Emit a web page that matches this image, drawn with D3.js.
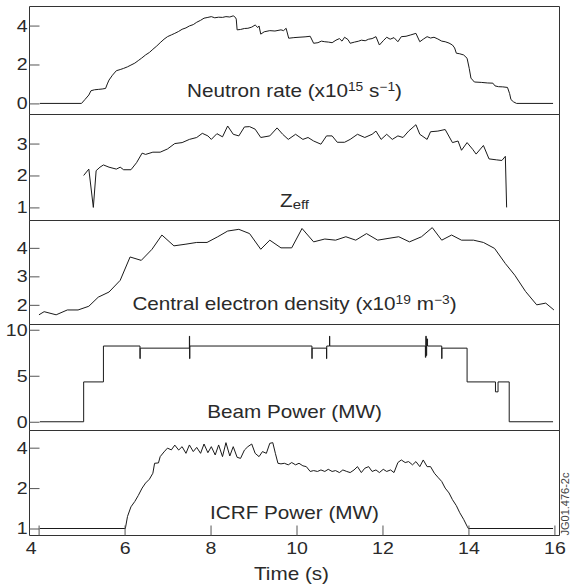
<!DOCTYPE html>
<html>
<head>
<meta charset="utf-8">
<script src="https://cdn.jsdelivr.net/npm/d3@7"></script>
<style>
    body {
        margin: 0;
        background: #fff;
    }

    svg {
        font-family: "Liberation Sans", Arial, Helvetica, sans-serif;
    }

    .frame {
        fill: none;
        stroke: #333;
        stroke-width: 1px;
        vector-effect: non-scaling-stroke;
    }

    .trace {
        fill: none;
        stroke: #1a1a1a;
        stroke-width: 1px;
        stroke-linejoin: round;
        vector-effect: non-scaling-stroke;
    }

    .axis path {
        display: none;
    }

    .axis line {
        stroke: #555;
        vector-effect: non-scaling-stroke;
    }

    .axis text {
        font-size: 17px;
        fill: #2a2a2a;
    }

    .label {
        font-size: 18px;
        fill: #2a2a2a;
        text-anchor: middle;
    }
</style>
</head>
<body>
<svg width="572" height="588"></svg>
<script>
    // time traces, [t (s), value]
    var neutron = [
        [4.03, 0], [5.00, 0], [5.08, 0.2], [5.17, 0.43], [5.22, 0.65], [5.30, 0.7], [5.39, 0.72], [5.48, 0.74],
        [5.56, 0.77], [5.60, 1.0], [5.64, 1.2], [5.72, 1.45], [5.81, 1.68], [5.90, 1.74], [5.98, 1.8], [6.07, 1.88],
        [6.15, 1.97], [6.24, 2.07], [6.32, 2.2], [6.40, 2.33], [6.49, 2.49], [6.58, 2.62], [6.66, 2.78], [6.75, 2.95],
        [6.83, 3.12], [6.92, 3.3], [7.0, 3.43], [7.09, 3.52], [7.17, 3.6], [7.26, 3.7], [7.34, 3.81], [7.43, 3.88],
        [7.51, 3.98], [7.60, 4.05], [7.68, 4.17], [7.77, 4.27], [7.85, 4.38], [7.94, 4.42], [8.02, 4.46], [8.10, 4.40],
        [8.19, 4.43], [8.28, 4.42], [8.36, 4.46], [8.45, 4.44], [8.53, 4.5], [8.58, 4.42], [8.60, 4.33], [8.62, 3.78],
        [8.70, 3.80], [8.79, 3.85], [8.87, 3.86], [8.96, 3.92], [9.04, 4.03], [9.10, 3.90], [9.13, 3.98], [9.17, 3.56],
        [9.25, 3.68], [9.38, 3.74], [9.50, 3.72], [9.64, 3.78], [9.70, 3.74], [9.76, 3.86], [9.82, 3.35], [9.94, 3.38],
        [10.06, 3.4], [10.2, 3.42], [10.32, 3.45], [10.40, 3.09], [10.5, 3.12], [10.58, 3.2], [10.66, 3.17], [10.75, 3.15],
        [10.83, 3.12], [10.92, 3.25], [11.0, 3.33], [11.06, 3.2], [11.12, 3.4], [11.20, 3.28], [11.25, 3.09], [11.35, 3.15],
        [11.45, 3.2], [11.51, 3.25], [11.6, 3.22], [11.68, 3.3], [11.76, 3.33], [11.85, 3.43], [11.93, 3.0], [12.02, 3.22],
        [12.10, 3.4], [12.18, 3.3], [12.27, 3.38], [12.36, 3.17], [12.44, 3.43], [12.55, 3.45], [12.66, 3.52], [12.78, 3.6],
        [12.87, 3.17], [12.95, 3.3], [13.04, 3.43], [13.12, 3.36], [13.2, 3.4], [13.29, 3.31], [13.38, 3.2], [13.46, 3.17],
        [13.55, 3.1], [13.63, 3.0], [13.68, 2.85], [13.72, 2.58], [13.80, 2.55], [13.89, 2.49], [13.97, 2.32], [14.02, 1.8],
        [14.06, 1.3], [14.14, 1.1], [14.3, 1.08], [14.45, 1.05], [14.57, 1.04], [14.62, 0.9], [14.7, 0.86], [14.8, 0.85],
        [14.91, 0.82], [14.96, 0.5], [14.99, 0.2], [15.05, 0.08], [15.12, 0], [15.97, 0]
    ];

    var zeff = [
        [5.05, 2.0], [5.17, 2.2], [5.275, 1.0], [5.34, 2.15], [5.43, 2.26], [5.51, 2.33], [5.64, 2.26], [5.81, 2.2],
        [5.90, 2.26], [5.98, 2.18], [6.15, 2.18], [6.28, 2.4], [6.41, 2.7], [6.49, 2.66], [6.66, 2.73], [6.83, 2.73],
        [7.0, 2.83], [7.17, 3.0], [7.34, 3.03], [7.51, 3.13], [7.68, 3.19], [7.81, 3.32], [7.94, 3.24], [8.02, 3.13],
        [8.15, 3.31], [8.28, 3.21], [8.40, 3.55], [8.53, 3.29], [8.66, 3.24], [8.79, 3.52], [8.91, 3.53], [9.04, 3.45],
        [9.17, 3.19], [9.38, 3.24], [9.55, 3.49], [9.68, 3.29], [9.81, 3.13], [9.98, 3.29], [10.15, 3.13], [10.27, 3.19],
        [10.40, 3.08], [10.57, 2.98], [10.70, 3.24], [10.83, 3.24], [10.95, 3.04], [11.12, 3.04], [11.25, 3.13], [11.42, 3.29],
        [11.59, 3.19], [11.76, 3.29], [11.85, 3.39], [11.97, 3.13], [12.10, 3.29], [12.23, 3.13], [12.36, 3.24], [12.48, 3.19],
        [12.61, 3.39], [12.78, 3.59], [12.87, 3.29], [13.04, 3.13], [13.12, 3.37], [13.29, 3.39], [13.46, 3.44], [13.63, 3.03],
        [13.76, 3.08], [13.84, 2.79], [13.97, 3.03], [14.10, 2.82], [14.18, 2.67], [14.35, 2.94], [14.48, 2.52], [14.65, 2.49],
        [14.78, 2.47], [14.86, 2.6], [14.89, 1.0]
    ];

    var density = [
        [4.01, 1.65], [4.13, 1.76], [4.41, 1.65], [4.67, 1.82], [4.92, 1.82], [5.17, 1.95], [5.39, 2.27], [5.64, 2.45],
        [5.90, 2.86], [6.13, 3.68], [6.39, 3.56], [6.64, 3.95], [6.87, 4.45], [7.15, 4.07], [7.43, 4.13], [7.68, 4.19],
        [7.92, 4.19], [8.17, 4.39], [8.40, 4.59], [8.66, 4.65], [8.91, 4.5], [9.17, 3.95], [9.38, 4.27], [9.64, 4.0],
        [9.89, 4.0], [10.13, 4.68], [10.40, 4.21], [10.66, 4.31], [10.91, 4.27], [11.15, 4.39], [11.38, 4.27], [11.63, 4.5],
        [11.89, 4.27], [12.13, 4.33], [12.38, 4.39], [12.63, 4.21], [12.91, 4.39], [13.16, 4.71], [13.38, 4.27], [13.61, 4.45],
        [13.84, 4.27], [14.12, 4.27], [14.35, 4.19], [14.61, 3.98], [14.86, 3.45], [15.08, 3.04], [15.33, 2.47], [15.59, 2.0],
        [15.80, 2.06], [15.99, 1.82]
    ];

    // step trace: value holds until the next time
    var beam = [
        [4.03, 0], [5.05, 4.33], [5.51, 8.23], [6.36, 6.86], [6.365, 8.0], [7.51, 9.3], [7.515, 6.86], [7.52, 8.23],
        [10.36, 6.86], [10.365, 8.0], [10.70, 6.86], [10.705, 8.23], [10.77, 9.3], [10.775, 8.23],
        [13.0, 7.0], [13.01, 9.3], [13.02, 7.2], [13.03, 9.0], [13.05, 8.23], [13.38, 6.86], [13.385, 8.0],
        [13.97, 4.33], [14.63, 3.25], [14.69, 4.33], [14.95, 0], [15.97, 0]
    ];

    var icrf = [
        [4.03, 1], [6.02, 1], [6.07, 1.23], [6.15, 1.45], [6.24, 1.59], [6.32, 1.76], [6.41, 2.0], [6.49, 2.18],
        [6.58, 2.33], [6.66, 2.58], [6.70, 3.06], [6.79, 3.08], [6.83, 3.43], [6.92, 3.72], [7.0, 3.97], [7.09, 3.85],
        [7.17, 4.18], [7.26, 3.84], [7.34, 4.07], [7.43, 3.63], [7.51, 4.19], [7.60, 3.74], [7.68, 4.02], [7.77, 3.63],
        [7.85, 4.26], [7.94, 3.67], [8.02, 4.07], [8.11, 3.53], [8.19, 4.19], [8.28, 3.43], [8.36, 4.36], [8.45, 3.47],
        [8.53, 4.07], [8.62, 3.39], [8.70, 3.33], [8.79, 3.84], [8.87, 4.07], [8.96, 4.26], [9.04, 3.63], [9.13, 3.43],
        [9.21, 3.74], [9.30, 3.63], [9.38, 4.31], [9.45, 4.36], [9.51, 3.63], [9.57, 3.06], [9.64, 3.03], [9.72, 3.06],
        [9.81, 2.98], [9.89, 3.10], [9.98, 2.98], [10.06, 3.06], [10.15, 2.93], [10.23, 2.89], [10.32, 2.66], [10.40, 2.70],
        [10.49, 2.66], [10.57, 2.73], [10.66, 2.66], [10.74, 2.76], [10.83, 2.66], [10.91, 2.70], [11.0, 2.61], [11.08, 2.73],
        [11.17, 2.66], [11.25, 2.61], [11.34, 2.73], [11.42, 2.89], [11.51, 2.61], [11.59, 2.81], [11.68, 2.89], [11.76, 2.66],
        [11.85, 2.73], [11.93, 2.61], [12.02, 2.76], [12.10, 2.66], [12.19, 2.73], [12.27, 2.61], [12.36, 3.10], [12.44, 3.24],
        [12.53, 3.10], [12.61, 3.15], [12.70, 2.98], [12.78, 3.15], [12.87, 2.89], [12.95, 3.24], [13.04, 2.89], [13.12, 2.89],
        [13.21, 2.58], [13.29, 2.41], [13.38, 2.24], [13.46, 2.0], [13.55, 1.84], [13.63, 1.64], [13.72, 1.48], [13.80, 1.31],
        [13.89, 1.17], [13.97, 1.04], [14.0, 1], [15.97, 1]
    ];

    var timeDomain = [3.79, 16.12];
    var timeTicks = [4, 6, 8, 10, 12, 14, 16];

    // label parts: [text, "" | "sup" | "sub"]
    var panels = [
        { data: neutron, domain: [-0.57, 4.98], ticks: [0, 2, 4], label: [["Neutron rate (x10", ""], ["15", "sup"], [" s", ""], ["\u22121", "sup"], [")", ""]] },
        { data: zeff, domain: [0.59, 3.91], ticks: [1, 2, 3], label: [["Z", ""], ["eff", "sub"]] },
        { data: density, domain: [1.31, 4.96], ticks: [2, 3, 4], label: [["Central electron density (x10", ""], ["19", "sup"], [" m", ""], ["\u22123", "sup"], [")", ""]] },
        { data: beam, domain: [-0.95, 10.57], ticks: [0, 5, 10], step: true, label: [["Beam Power (MW)", ""]] },
        { data: icrf, domain: [0.887, 5.37], ticks: [1, 2, 4], log: true, label: [["ICRF Power (MW)", ""]] }
    ];

    // panel top/bottom in page pixels
    var rows = [[6.5, 114.5], [114.5, 220.5], [220.5, 324.5], [324.5, 430.5], [430.5, 535.5]];
    var labelY = [97.5, 207.5, 310.5, 418.5, 519];

    // the original figure is a little wider than tall, stretch everything horizontally
    var SX = 1.15;

    var svg = d3.select("svg");
    var root = svg.append("g").attr("transform", "scale(" + SX + ",1)");

    var x = d3.scaleLinear().domain(timeDomain).range([29.5 / SX, 559.5 / SX]);
    var midX = (x.range()[0] + x.range()[1]) / 2;

    function addLabel(g, cx, cy, parts) {
        var t = g.append("text").attr("class", "label").attr("x", cx).attr("y", cy);
        var prev = 0;
        parts.forEach(function (p) {
            var off = p[1] === "sup" ? -6.5 : p[1] === "sub" ? 2 : 0;
            t.append("tspan")
                .attr("dy", off - prev)
                .style("font-size", p[1] === "sup" ? "12px" : p[1] === "sub" ? "13px" : null)
                .text(p[0]);
            prev = off;
        });
    }

    panels.forEach(function (p, i) {
        var top = rows[i][0], bottom = rows[i][1];
        var y = (p.log ? d3.scaleLog() : d3.scaleLinear()).domain(p.domain).range([bottom, top]);
        var g = root.append("g");

        g.append("rect")
            .attr("class", "frame")
            .attr("x", x.range()[0])
            .attr("y", top)
            .attr("width", x.range()[1] - x.range()[0])
            .attr("height", bottom - top);

        g.append("g")
            .attr("class", "axis")
            .attr("transform", "translate(" + x.range()[0] + ",0)")
            .call(d3.axisLeft(y).tickValues(p.ticks).tickFormat(d3.format("d"))
                .tickSize(-10 / SX).tickPadding(2 / SX));

        var line = d3.line()
            .x(function (d) { return x(d[0]); })
            .y(function (d) { return y(d[1]); });
        if (p.step) line.curve(d3.curveStepAfter);

        g.append("path")
            .datum(p.data)
            .attr("class", "trace")
            .attr("d", line);

        addLabel(g, midX, labelY[i], p.label);
    });

    var bottomAxis = root.append("g")
        .attr("class", "axis")
        .attr("transform", "translate(0," + rows[4][1] + ")")
        .call(d3.axisBottom(x).tickValues(timeTicks).tickFormat(d3.format("d"))
            .tickSize(-10).tickPadding(6));

    // first label sits against the frame in the original
    bottomAxis.selectAll(".tick text")
        .filter(function (d) { return d === 4; })
        .attr("dx", -8 / SX);

    root.append("text")
        .attr("class", "label")
        .attr("x", midX - 3 / SX)
        .attr("y", 580)
        .text("Time (s)");

    svg.append("text")
        .attr("transform", "translate(569,535.5) rotate(-90)")
        .style("font-size", "11px")
        .attr("fill", "#444")
        .text("JG01.476-2c");
</script>
</body>
</html>
